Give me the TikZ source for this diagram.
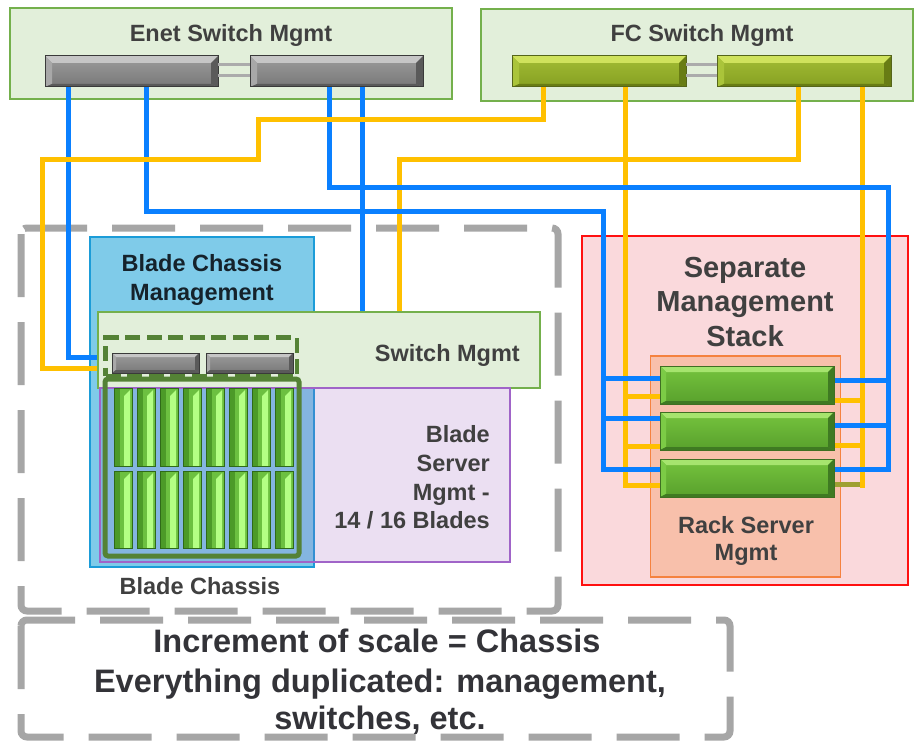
\documentclass[tikz,border=0pt]{standalone}
\usepackage{fontspec}
\setmainfont{Liberation Sans}
\usetikzlibrary{calc}

% panel colours
\definecolor{mgmtfill}{HTML}{E2EFDA}
\definecolor{mgmtedge}{HTML}{74B04C}
\definecolor{dashgray}{HTML}{A6A6A6}
\definecolor{chassisfill}{HTML}{7FCBE9}
\definecolor{chassisedge}{HTML}{1B9CD8}
\definecolor{bladepurple}{HTML}{9B5FBE}
\definecolor{purpleedge}{HTML}{A064C8}
\definecolor{stackfill}{HTML}{FAD9DC}
\definecolor{stackedge}{HTML}{FF1010}
\definecolor{rackfill}{HTML}{F8C0AB}
\definecolor{rackedge}{HTML}{F5823F}
\definecolor{encgreen}{HTML}{548235}
% cabling
\definecolor{enetblue}{HTML}{0A80FF}
\definecolor{fcyellow}{HTML}{FFC000}
\definecolor{fcolive}{HTML}{9EA032}
\definecolor{linkgray}{HTML}{ABABAB}
% text
\definecolor{labelgray}{HTML}{404040}
\definecolor{labeldark}{HTML}{15222B}
\definecolor{notegray}{HTML}{333338}
% bevelled device bars
\definecolor{grayEdge}{HTML}{3A3A3A}
\definecolor{grayTop}{HTML}{9C9C9C}
\definecolor{grayBot}{HTML}{787878}
\definecolor{grayHi}{HTML}{C6C6C6}
\definecolor{grayMid}{HTML}{A8A8A8}
\definecolor{grayLo}{HTML}{5A5A5A}
\definecolor{oliveEdge}{HTML}{55651A}
\definecolor{oliveTop}{HTML}{A2BC34}
\definecolor{oliveBot}{HTML}{86A022}
\definecolor{oliveHi}{HTML}{CFE25C}
\definecolor{oliveMid}{HTML}{AAC43A}
\definecolor{oliveLo}{HTML}{687C14}
\definecolor{rackEdge}{HTML}{3F6F22}
\definecolor{rackTop}{HTML}{76C43E}
\definecolor{rackBot}{HTML}{58A02C}
\definecolor{rackHi}{HTML}{A6E46E}
\definecolor{rackMid}{HTML}{7CCB46}
\definecolor{rackLo}{HTML}{3F7A22}
\definecolor{bladeEdge}{HTML}{2F6A18}
\definecolor{bladeFace}{HTML}{6CC040}
\definecolor{bladeDark}{HTML}{4C9A28}
\definecolor{bladeLight}{HTML}{B4FF84}

\tikzset{
  panel/.style={rectangle, anchor=north west, inner sep=0pt, outer sep=0pt, line width=1.5pt},
  dashbox/.style={draw=dashgray, line width=7pt, dash pattern=on 63pt off 25pt, rounded corners=6pt},
  lbl/.style={font=\bfseries\fontsize{23.5}{28}\selectfont, text=labelgray, inner sep=0pt, anchor=base},
  wire/.style={line width=5pt, line cap=rect},
  eth/.style={wire, draw=enetblue},
  fc/.style={wire, draw=fcyellow},
  link/.style={draw=linkgray, line width=3pt},
  bar/.style n args={7}{rectangle, anchor=north west, inner sep=0pt, outer sep=0pt,
    draw=#1, line width=1pt, top color=#2, bottom color=#3,
    path picture={
      \fill[#4] (path picture bounding box.north west) -- (path picture bounding box.north east)
        -- ([xshift=-#7,yshift=-#7]path picture bounding box.north east)
        -- ([xshift=#7,yshift=-#7]path picture bounding box.north west) -- cycle;
      \fill[#5] (path picture bounding box.north west) -- ([xshift=#7,yshift=-#7]path picture bounding box.north west)
        -- ([xshift=#7,yshift=3pt]path picture bounding box.south west) -- (path picture bounding box.south west) -- cycle;
      \fill[#6] (path picture bounding box.north east) -- ([xshift=-#7,yshift=-#7]path picture bounding box.north east)
        -- ([xshift=-#7,yshift=3pt]path picture bounding box.south east) -- (path picture bounding box.south east) -- cycle;
      \fill[#6] (path picture bounding box.south west) -- ([xshift=#7,yshift=3pt]path picture bounding box.south west)
        -- ([xshift=-#7,yshift=3pt]path picture bounding box.south east) -- (path picture bounding box.south east) -- cycle;
    }},
  enetsw/.style={bar={grayEdge}{grayTop}{grayBot}{grayHi}{grayMid}{grayLo}{7pt}, minimum width=173pt, minimum height=31pt},
  chassw/.style={bar={grayEdge}{grayTop}{grayBot}{grayHi}{grayMid}{grayLo}{4pt}, minimum width=87pt, minimum height=20pt},
  fcsw/.style={bar={oliveEdge}{oliveTop}{oliveBot}{oliveHi}{oliveMid}{oliveLo}{7pt}, minimum width=174pt, minimum height=31pt},
  rackserver/.style={bar={rackEdge}{rackTop}{rackBot}{rackHi}{rackMid}{rackLo}{6pt}, minimum width=174pt, minimum height=38pt},
  blade/.style={rectangle, anchor=north west, inner sep=0pt, outer sep=0pt,
    draw=bladeEdge, line width=1pt, fill=bladeFace, minimum width=18pt,
    path picture={
      \fill[bladeDark] (path picture bounding box.north west) -- ([xshift=6pt]path picture bounding box.north west)
        -- ([xshift=6pt]path picture bounding box.south west) -- (path picture bounding box.south west) -- cycle;
      \fill[bladeLight] ([xshift=-2pt,yshift=-2pt]path picture bounding box.north east)
        -- ([xshift=-2pt,yshift=-1pt]path picture bounding box.south east)
        -- ([xshift=-8pt,yshift=-1pt]path picture bounding box.south east)
        -- ([xshift=-8pt,yshift=-8pt]path picture bounding box.north east) -- cycle;
    }},
}

\begin{document}
\begin{tikzpicture}[x=1pt,y=-1pt]
\fill[white] (0,0) rectangle (915,741);
\useasboundingbox (0,0) rectangle (915,741);

% ---- fabric management panels ----
\node[panel, fill=mgmtfill, draw=mgmtedge, minimum width=442pt, minimum height=91pt] (enetpanel) at (10,8) {};
\node[panel, fill=mgmtfill, draw=mgmtedge, minimum width=432pt, minimum height=92pt] (fcpanel) at (481,9) {};

% ---- scale-unit outlines ----
\draw[dashbox] (21,228) rectangle (558,611);
\draw[dashbox] (21,620) rectangle (730,737);

% ---- chassis management and separate stack ----
\node[panel, fill=chassisfill, draw=chassisedge, minimum width=224pt, minimum height=330pt] (chassismgmt) at (90,237) {};
\node[panel, fill=stackfill, draw=stackedge, minimum width=326pt, minimum height=349pt] (stack) at (582,236) {};
\node[panel, fill=rackfill, draw=rackedge, minimum width=190pt, minimum height=221pt] (rackmgmt) at (650.5,356) {};

% ---- ports and bends ----
\coordinate (pB1) at (68.5,80);
\coordinate (pB2) at (146,80);   \coordinate (mB2) at (146,180);
\coordinate (pB3) at (329.5,80); \coordinate (mB3) at (329.5,150);
\coordinate (pB4) at (362,80);
\coordinate (pY1) at (543,80);
\coordinate (pY2) at (625.5,80);
\coordinate (pY3) at (798,80);
\coordinate (pY4) at (862,80);
\coordinate (inSwB) at (102,357);
\coordinate (inSwY) at (102,368.5);
\coordinate (inSwTopB) at (362,316);
\coordinate (inSwTopY) at (399,316);
\coordinate (bendB2) at (603.5,211.5);
\coordinate (bendB3) at (888.5,187);
\coordinate (yA) at (258,120);
\coordinate (yB) at (42.5,159.5);
\coordinate (yC) at (399,159.5);
% rack server ports, left side
\coordinate (lA1) at (665,378.5); \coordinate (lB1) at (665,418.5); \coordinate (lC1) at (665,469.5);
\coordinate (lA2) at (665,396);   \coordinate (lB2) at (665,446.5); \coordinate (lC2) at (665,485);
% rack server ports, right side
\coordinate (rA1) at (829,380.5); \coordinate (rB1) at (829,425.5); \coordinate (rC1) at (829,469);
\coordinate (rA2) at (829,400);   \coordinate (rB2) at (829,445.5); \coordinate (rC2) at (829,484.5);

% ---- Ethernet runs passing under the FC runs ----
\draw[eth] (pB1) |- (inSwB);
\draw[eth] (pB2) -- (mB2);
\draw[eth] (pB3) -- (mB3);
\draw[eth] (pB4) -- (inSwTopB);

% ---- FC runs ----
\draw[fc] (pY1) |- (yA) |- (yB) |- (inSwY);
\draw[fc] (pY2) |- (lC2);
\draw[fc] (pY2 |- lA2) -- (lA2);
\draw[fc] (pY2 |- lB2) -- (lB2);
\draw[fc] (pY3) |- (yC) -- (inSwTopY);
\draw[line width=5pt, draw=fcolive] (rC2) -- (pY4 |- rC2);
\draw[fc] (pY4) -- ($(pY4 |- rC2)+(0,0.5)$);
\draw[fc] (pY4 |- rA2) -- (rA2);
\draw[fc] (pY4 |- rB2) -- (rB2);

% ---- Ethernet runs crossing over the FC runs ----
\draw[eth] (mB2) |- (bendB2) |- (lC1);
\draw[eth] (bendB2 |- lA1) -- (lA1);
\draw[eth] (bendB2 |- lB1) -- (lB1);
\draw[eth] (mB3) |- (bendB3) |- (rC1);
\draw[eth] (bendB3 |- rA1) -- (rA1);
\draw[eth] (bendB3 |- rB1) -- (rB1);

% ---- blade chassis ----
\node[panel, fill=mgmtfill, draw=mgmtedge, minimum width=442pt, minimum height=76pt] (swmgmt) at (98,312) {};
\node[panel, fill=bladepurple, fill opacity=0.2, draw=purpleedge, draw opacity=1, minimum width=410pt, minimum height=174pt] (blademgmt) at (100,388) {};
\node[panel, draw=encgreen, line width=5pt, rounded corners=3pt, minimum width=194pt, minimum height=177pt] (enclosure) at (105,379) {};
\foreach \i in {0,...,7}{
  \node[blade, minimum height=78pt] (bladeT\i) at (114+23*\i,388) {};
  \node[blade, minimum height=77pt] (bladeB\i) at (114+23*\i,471) {};
}
\node[panel, draw=encgreen, line width=4.5pt, dash pattern=on 15pt off 6.5pt, minimum width=191.5pt, minimum height=38.5pt] (chassw) at (105.5,337.5) {};
\node[chassw] (chswA) at (112,353) {};
\node[chassw] (chswB) at (206,353) {};

% ---- fabric switches ----
\node[enetsw] (enetA) at (45,56) {};
\node[enetsw] (enetB) at (250,56) {};
\draw[link] ($(enetA.north east)+(0,9)$) -- ($(enetB.north west)+(0,9)$);
\draw[link] ($(enetA.north east)+(0,20)$) -- ($(enetB.north west)+(0,20)$);
\node[fcsw] (fcA) at (512,56) {};
\node[fcsw] (fcB) at (717,56) {};
\draw[link] ($(fcA.north east)+(0,9)$) -- ($(fcB.north west)+(0,9)$);
\draw[link] ($(fcA.north east)+(0,20)$) -- ($(fcB.north west)+(0,20)$);

% ---- rack servers ----
\node[rackserver] (srvA) at (660,366) {};
\node[rackserver] (srvB) at (660,412) {};
\node[rackserver] (srvC) at (660,459) {};

% ---- labels ----
\node[lbl] (enetlbl) at (231,41.5) {Enet Switch Mgmt};
\node[lbl] (fclbl) at (702,41.5) {FC Switch Mgmt};
\node[lbl, text=labeldark] (bcmA) at (202,271.5) {Blade Chassis};
\node[lbl, text=labeldark] (bcmB) at (202,300) {Management};
\node[lbl, anchor=base east] (swlbl) at (520,361) {Switch Mgmt};
\node[lbl, anchor=base east] (bsA) at (490,442) {Blade};
\node[lbl, anchor=base east] (bsB) at (490,471) {Server};
\node[lbl, anchor=base east] (bsC) at (490,500) {Mgmt -};
\node[lbl, anchor=base east] (bsD) at (490,528) {14 / 16 Blades};
\node[lbl] (chlbl) at (200,594) {Blade Chassis};
\node[lbl, font=\bfseries\fontsize{29}{34}\selectfont] (stA) at (745,277) {Separate};
\node[lbl, font=\bfseries\fontsize{29}{34}\selectfont] (stB) at (745,311) {Management};
\node[lbl, font=\bfseries\fontsize{29}{34}\selectfont] (stC) at (745,346) {Stack};
\node[lbl] (rkA) at (746,533.5) {Rack Server};
\node[lbl] (rkB) at (746,560.5) {Mgmt};
\node[lbl, text=notegray, font=\bfseries\fontsize{32.5}{38}\selectfont] (noteA) at (377,652.5) {Increment of scale = Chassis};
\node[lbl, text=notegray, font=\bfseries\fontsize{32.5}{38}\selectfont] (noteB) at (380,692) {Everything duplicated: management,};
\node[lbl, text=notegray, font=\bfseries\fontsize{32.5}{38}\selectfont] (noteC) at (380,729.5) {switches, etc.};
\end{tikzpicture}
\end{document}
